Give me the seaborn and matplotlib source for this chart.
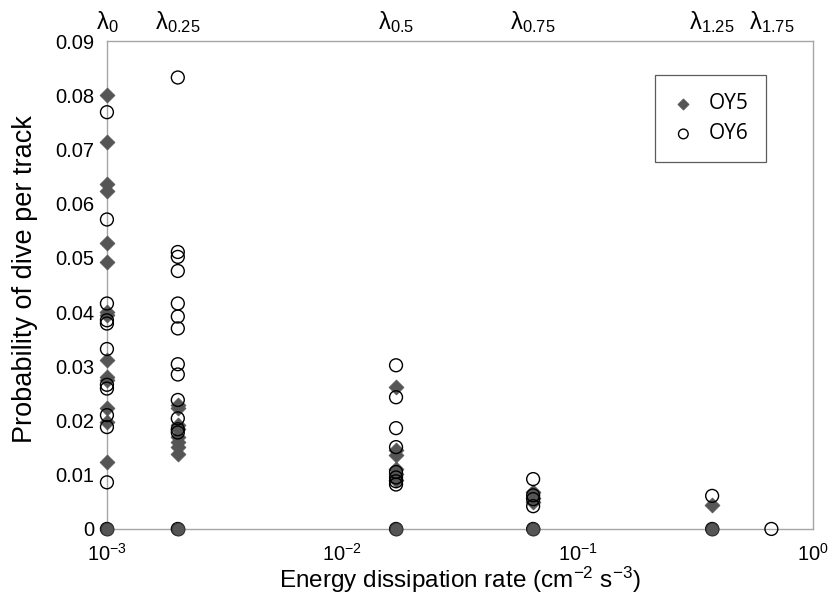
import numpy as np
import pandas as pd
import matplotlib
matplotlib.use("Agg")
import matplotlib.pyplot as plt
import matplotlib.ticker as mticker
from matplotlib.transforms import blended_transform_factory
import seaborn as sns

# Energy dissipation rate for each turbulence level (cm^-2 s^-3)
levels = ["0", "0.25", "0.5", "0.75", "1.25", "1.75"]
eps = [1e-3, 2e-3, 0.0169, 0.0646, 0.372, 0.664]

# Probability of dive per track, per level
oy5 = {
    "0": [0.080, 0.0714, 0.0636, 0.0624, 0.0527, 0.0492, 0.0401, 0.0395, 0.0312,
          0.0281, 0.0275, 0.0224, 0.0198, 0.0124, 0.0],
    "0.25": [0.0229, 0.0223, 0.0192, 0.0185, 0.0170, 0.0161, 0.0152, 0.0138, 0.0],
    "0.5": [0.0262, 0.0146, 0.0136, 0.0110, 0.0102, 0.0090, 0.0],
    "0.75": [0.0068, 0.0058, 0.0050, 0.0],
    "1.25": [0.0044, 0.0],
    "1.75": [],
}
oy6 = {
    "0": [0.0769, 0.0571, 0.0416, 0.0385, 0.0379, 0.0332, 0.0266, 0.0259, 0.0210,
          0.0188, 0.0086, 0.0],
    "0.25": [0.0833, 0.0511, 0.0502, 0.0476, 0.0416, 0.0392, 0.0370, 0.0304,
             0.0285, 0.0238, 0.0204, 0.0184, 0.0178, 0.0],
    "0.5": [0.0302, 0.0243, 0.0186, 0.0151, 0.0105, 0.0095, 0.0088, 0.0082, 0.0],
    "0.75": [0.0092, 0.0062, 0.0055, 0.0042, 0.0],
    "1.25": [0.0061, 0.0],
    "1.75": [0.0],
}

y_ticks = [0, 0.01, 0.02, 0.03, 0.04, 0.05, 0.06, 0.07, 0.08, 0.09]


def to_frame(series, name):
    rows = []
    for lev, e in zip(levels, eps):
        for v in series[lev]:
            rows.append({"eps": e, "p": v, "line": name})
    return pd.DataFrame(rows)


d5 = to_frame(oy5, "OY5")
d6 = to_frame(oy6, "OY6")

sns.set_theme(style="white")
plt.rcParams["font.family"] = ["Liberation Sans", "DejaVu Sans"]
plt.rcParams["mathtext.fontset"] = "custom"
plt.rcParams["mathtext.rm"] = "Liberation Sans"
plt.rcParams["mathtext.it"] = "Liberation Sans:italic"
plt.rcParams["mathtext.default"] = "regular"
plt.rcParams["text.color"] = "black"
plt.rcParams["axes.labelcolor"] = "black"
plt.rcParams["xtick.color"] = "black"
plt.rcParams["ytick.color"] = "black"

fig = plt.figure(figsize=(8.29, 5.97), dpi=100)
ax = fig.add_axes([0.129, 0.114, 0.852, 0.817])

dark = "#555555"
d5_nz = d5[d5["p"] > 0]
d5_z = d5[d5["p"] == 0]

sns.scatterplot(data=d5_nz, x="eps", y="p", marker="D", s=58, color=dark,
                edgecolor=dark, linewidth=0.5, ax=ax, label="OY5", clip_on=False,
                zorder=3)
sns.scatterplot(data=d6, x="eps", y="p", marker="o", s=86, facecolor="none",
                edgecolor="black", linewidth=1.0, ax=ax, label="OY6",
                clip_on=False, zorder=4)
sns.scatterplot(data=d5_z, x="eps", y="p", marker="o", s=86, color=dark,
                edgecolor="#333333", linewidth=0.8, ax=ax, legend=False,
                clip_on=False, zorder=5)

ax.set_xscale("log")
ax.set_xlim(1e-3, 1e0)
ax.set_ylim(0, 0.09)
ax.set_yticks(y_ticks)
ax.yaxis.set_major_formatter(mticker.FuncFormatter(lambda v, _: f"{v:g}"))
ax.xaxis.set_major_locator(mticker.LogLocator(base=10, numticks=10))
ax.xaxis.set_minor_locator(mticker.NullLocator())
ax.xaxis.set_major_formatter(mticker.LogFormatterMathtext())

for side in ["left", "right", "top", "bottom"]:
    ax.spines[side].set_visible(True)
    ax.spines[side].set_color("#a6a6a6")
    ax.spines[side].set_linewidth(1.0)
ax.tick_params(axis="both", which="major", direction="out", length=5,
               width=1.0, color="#a6a6a6", labelcolor="black", labelsize=14.5,
               pad=4)
ax.tick_params(axis="x", pad=5)

ax.set_xlabel("Energy dissipation rate (cm$^{-2}$ s$^{-3}$)", fontsize=17.5,
              labelpad=0)
ax.set_ylabel("Probability of dive per track", fontsize=19.5)
ax.yaxis.set_label_coords(-0.097, 0.513)

trans = blended_transform_factory(ax.transData, ax.transAxes)
for lev, e in zip(levels, eps):
    ax.text(e, 1.012, rf"$\lambda_{{{lev}}}$", transform=trans, ha="center",
            va="bottom", fontsize=17)

leg = ax.legend(loc="upper right", bbox_to_anchor=(0.933, 0.93), frameon=True,
                fancybox=False, handletextpad=0.7, borderpad=0.85,
                labelspacing=0.45, handlelength=1.0, markerscale=0.75,
                borderaxespad=0, prop={"family": "Open Sans", "size": 15})
leg.get_frame().set_edgecolor("#333333")
leg.get_frame().set_linewidth(0.9)

fig.savefig("out.png", dpi=100, facecolor="white")
